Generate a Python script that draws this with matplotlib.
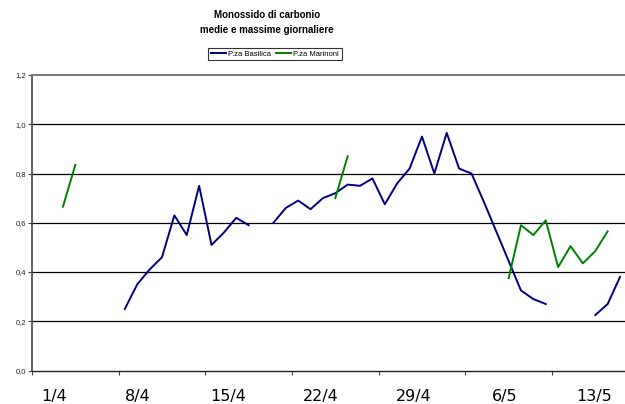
import numpy as np
import pandas as pd
import matplotlib
matplotlib.use("Agg")
import matplotlib.pyplot as plt

nan = np.nan

# giorni dal 1/4 al 19/5
days = pd.date_range("2023-04-01", "2023-05-19", freq="D")

basilica = [nan, nan, nan, nan, nan, nan, nan,
            0.25, 0.35, 0.41, 0.46, 0.63, 0.55, 0.75,
            0.51, 0.56, 0.62, 0.59, nan, 0.60, 0.66,
            0.69, 0.655, 0.70, 0.72, 0.755, 0.75, 0.78,
            0.675, 0.76, 0.82, 0.95, 0.80, 0.965, 0.82,
            0.80, 0.685, 0.565, 0.445, 0.325, 0.29, 0.27,
            nan, nan, nan, 0.225, 0.27, 0.38, nan]

marinoni = [nan, nan, 0.665, 0.835, nan, nan, nan,
            nan, nan, nan, nan, nan, nan, nan,
            nan, nan, nan, nan, nan, nan, nan,
            nan, nan, nan, 0.70, 0.87, nan, nan,
            nan, nan, nan, nan, nan, nan, nan,
            nan, nan, nan, 0.375, 0.59, 0.55, 0.61,
            0.42, 0.505, 0.435, 0.485, 0.565, nan, nan]

tick_labels = ["1/4", "8/4", "15/4", "22/4", "29/4", "6/5", "13/5"]
label_pos = [1.75, 8.55, 15.85, 23.35, 30.8, 38.2, 45.4]
y_labels = ["0,0", "0,2", "0,4", "0,6", "0,8", "1,0", "1,2"]

df = pd.DataFrame({"P.za Basilica": basilica, "P.za Marinoni": marinoni}, index=days)
x = np.arange(len(df)) + 0.5

fig = plt.figure(figsize=(6.25, 4.04), dpi=100)
# the plot area runs past the right edge of the image, like the original
ax = fig.add_axes([32 / 625, 33.5 / 404, 606.6 / 625, 295.5 / 404])

for y in [0.2, 0.4, 0.6, 0.8, 1.0]:
    ax.axhline(y, color="black", lw=0.9, zorder=1)

ax.plot(x, df["P.za Basilica"], color="#000080", lw=1.4, label="P.za Basilica", zorder=3)
ax.plot(x, df["P.za Marinoni"], color="#008000", lw=1.4, label="P.za Marinoni", zorder=3)

ax.set_xlim(0, len(df))
ax.set_ylim(0, 1.2)

ax.set_yticks(np.arange(0, 1.21, 0.2))
ax.set_yticklabels(y_labels, fontsize=5.5, family="Liberation Sans", color="#222222")
ax.tick_params(axis="y", length=3, width=0.8, pad=1.5, color="#444444")

ax.set_xticks(np.arange(0, len(df), 7))
ax.set_xticklabels([])
ax.tick_params(axis="x", which="major", length=3, width=0.8, color="#444444")
ax.set_xticks(label_pos, minor=True)
ax.set_xticklabels(tick_labels, minor=True, fontsize=11.5, family="DejaVu Sans")
ax.tick_params(axis="x", which="minor", length=0, pad=13)

ax.spines["right"].set_visible(False)
ax.spines["top"].set_color("#777777")
ax.spines["top"].set_linewidth(1.4)
ax.spines["left"].set_color("#444444")
ax.spines["left"].set_linewidth(1.2)
ax.spines["bottom"].set_color("#222222")
ax.spines["bottom"].set_linewidth(1.0)

fig.text(267 / 625, 1 - 15 / 404, "Monossido di carbonio", ha="center", va="center",
         fontsize=7, fontweight="bold", family="Liberation Sans")
fig.text(267 / 625, 1 - 30 / 404, "medie e massime giornaliere", ha="center", va="center",
         fontsize=7, fontweight="bold", family="Liberation Sans")

leg = fig.legend(loc="center", bbox_to_anchor=(275 / 625, 1 - 54 / 404), ncol=2,
                 frameon=True, fancybox=False, handlelength=2.0,
                 handletextpad=0.25, columnspacing=0.6, borderpad=0.35,
                 prop={"family": "Liberation Sans", "size": 5.5})
leg.get_frame().set_edgecolor("black")
leg.get_frame().set_linewidth(0.8)

fig.savefig("out.png", dpi=100)
